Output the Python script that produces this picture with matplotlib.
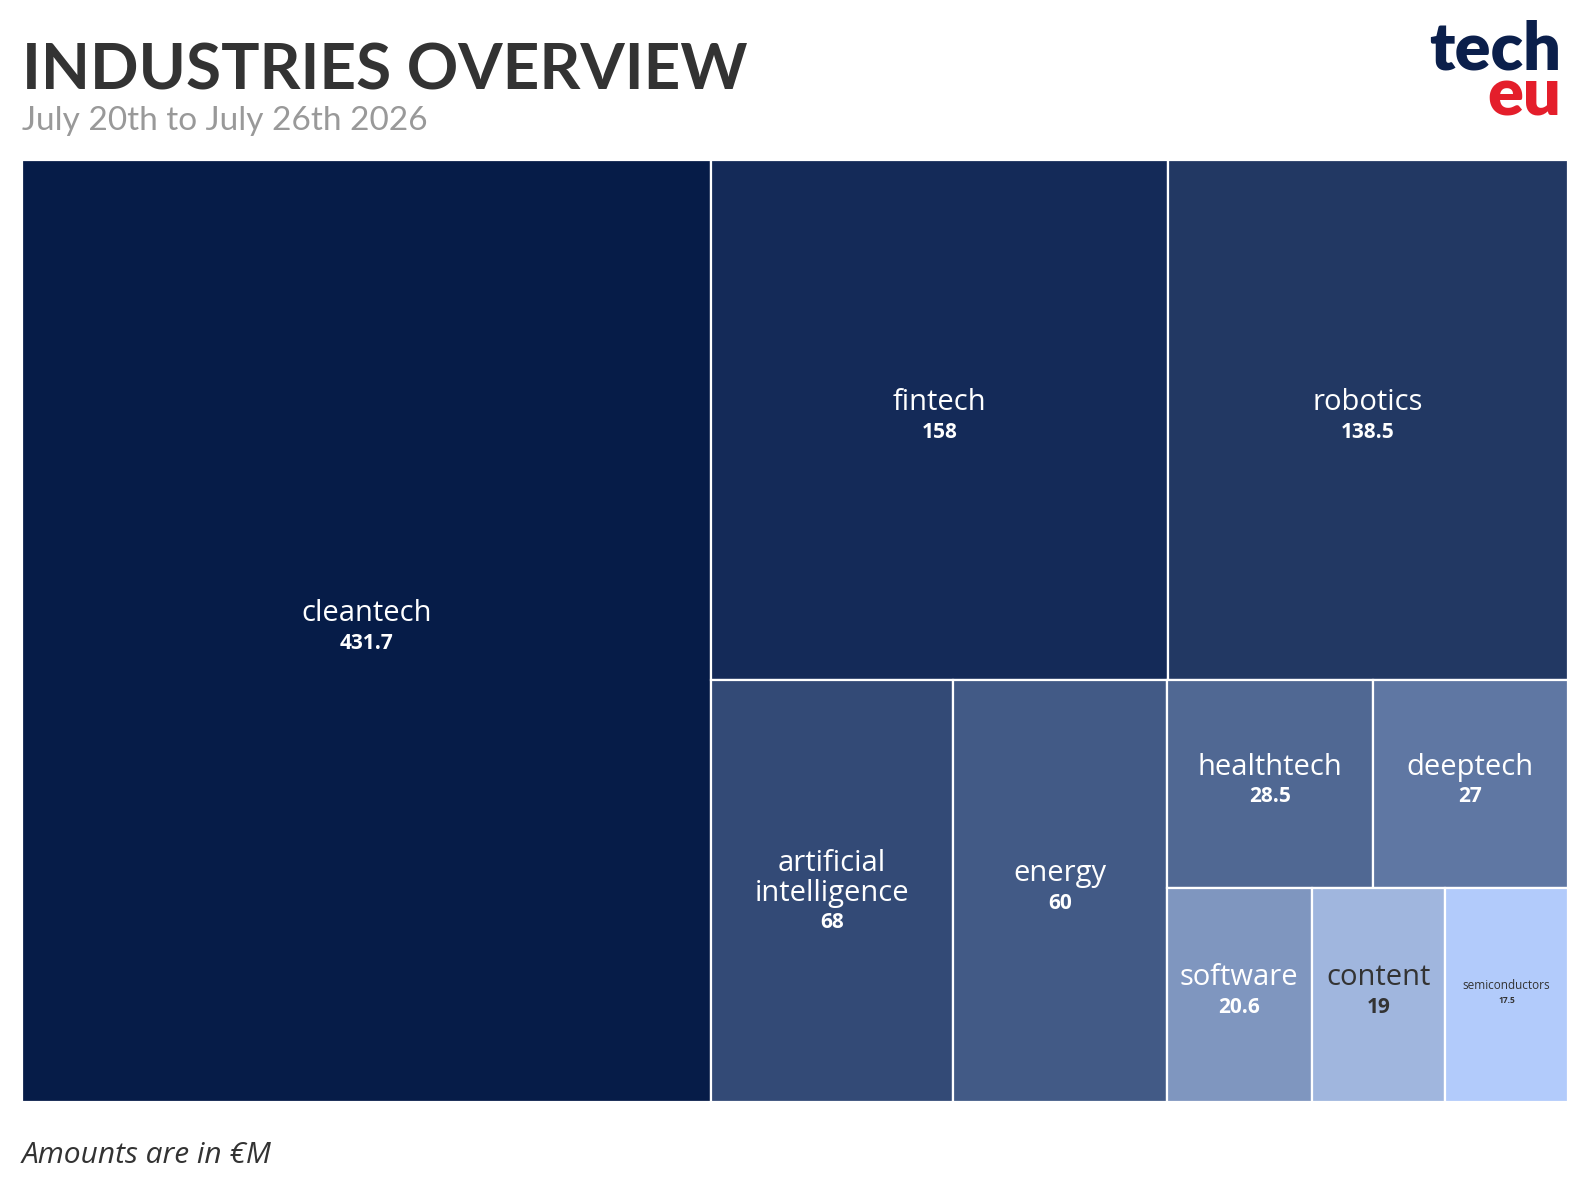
import matplotlib
matplotlib.use('Agg')
import matplotlib.pyplot as plt
from matplotlib.patches import Rectangle
from matplotlib.colors import to_rgb

# data
industries = ['cleantech', 'fintech', 'robotics', 'artificial intelligence', 'energy',
              'healthtech', 'deeptech', 'software', 'content', 'semiconductors']
amounts = [431.7, 158, 138.5, 68, 60, 28.5, 27, 20.6, 19, 17.5]
colors = ['#061c48', '#142a58', '#223863', '#334a76', '#425a86',
          '#506893', '#5f77a3', '#7f96bf', '#a0b6de', '#b2cbfb']

title = 'INDUSTRIES OVERVIEW'
subtitle = 'July 20th to July 26th 2026'
note = 'Amounts are in \u20acM'

W_PX, H_PX = 1588, 1190
HEAD_FONT = 'Lato'
FONT = 'Open Sans'


def binary_treemap(values, x0, y0, x1, y1):
    # split the list where the running sum is closest to half, cut along the longer side
    if len(values) == 1:
        return [(x0, y0, x1, y1)]
    total = sum(values)
    cum = 0
    best_k, best_d = 1, None
    for k in range(1, len(values)):
        cum += values[k - 1]
        d = abs(cum - total / 2)
        if best_d is None or d < best_d:
            best_k, best_d = k, d
    left, right = values[:best_k], values[best_k:]
    frac = sum(left) / total
    if (x1 - x0) > (y1 - y0):
        xk = x0 + (x1 - x0) * frac
        return binary_treemap(left, x0, y0, xk, y1) + binary_treemap(right, xk, y0, x1, y1)
    yk = y0 + (y1 - y0) * frac
    return binary_treemap(left, x0, y0, x1, yk) + binary_treemap(right, x0, yk, x1, y1)


fig = plt.figure(figsize=(W_PX / 100, H_PX / 100), dpi=100)
fig.patch.set_facecolor('white')

left, top, right, bottom = 22, 160, 1568, 1102
W, H = right - left, bottom - top
ax = fig.add_axes([left / W_PX, 1 - bottom / H_PX, W / W_PX, H / H_PX])
ax.set_xlim(0, W)
ax.set_ylim(H, 0)
ax.axis('off')

rects = binary_treemap(amounts, 0, 0, W, H)
renderer = fig.canvas.get_renderer()

for name, val, col, (x0, y0, x1, y1) in zip(industries, amounts, colors, rects):
    ax.add_patch(Rectangle((x0, y0), x1 - x0, y1 - y0, facecolor=col,
                           edgecolor='white', linewidth=1.6))
    r, g, b = to_rgb(col)
    lum = 0.299 * r + 0.587 * g + 0.114 * b
    tcol = 'white' if lum < 0.65 else '#333333'
    cx, cy = (x0 + x1) / 2, (y0 + y1) / 2

    name_size, val_size, step = 21, 15, 21.5
    # check fit
    t = ax.text(cx, cy, name, fontsize=name_size, family=FONT)
    wpx = t.get_window_extent(renderer).width
    t.remove()
    lines = [name]
    if wpx > (x1 - x0) - 20:
        if ' ' in name:
            lines = name.split(' ')
        else:
            name_size, val_size, step = 8.5, 6, 11
    k = len(lines) + 1
    shift = 0 if k == 2 else -3
    for i, ln in enumerate(lines):
        off = ((k - 1) / 2 - i) * step + 1.5 + shift
        ax.annotate(ln, (cx, cy), xytext=(0, off), textcoords='offset points',
                    ha='center', va='center', fontsize=name_size, family=FONT,
                    color=tcol)
    off = ((k - 1) / 2 - (k - 1)) * step + 1.5 + shift
    ax.annotate('{:g}'.format(val), (cx, cy), xytext=(0, off), textcoords='offset points',
                ha='center', va='center', fontsize=val_size, family=FONT,
                weight='bold', color=tcol)

# header
fig.text(22 / W_PX, 1 - 89 / H_PX, title, fontsize=46, weight='bold', family=HEAD_FONT,
         color='#333333', va='baseline', ha='left')
fig.text(22 / W_PX, 1 - 130 / H_PX, subtitle, fontsize=24, family=HEAD_FONT,
         color='#999999', va='baseline', ha='left')

# logo
fig.text(1561 / W_PX, 1 - 69 / H_PX, 'tech', fontsize=48, weight='heavy', family=HEAD_FONT,
         color='#0b1f4b', va='baseline', ha='right')
fig.text(1561 / W_PX, 1 - 116 / H_PX, 'eu', fontsize=48, weight='heavy', family=HEAD_FONT,
         color='#e41e2b', va='baseline', ha='right')

# footnote
fig.text(22 / W_PX, 1 - 1163 / H_PX, note, fontsize=21.5, style='italic', family=FONT,
         color='#333333', va='baseline', ha='left')

fig.savefig('out.png', dpi=100)
